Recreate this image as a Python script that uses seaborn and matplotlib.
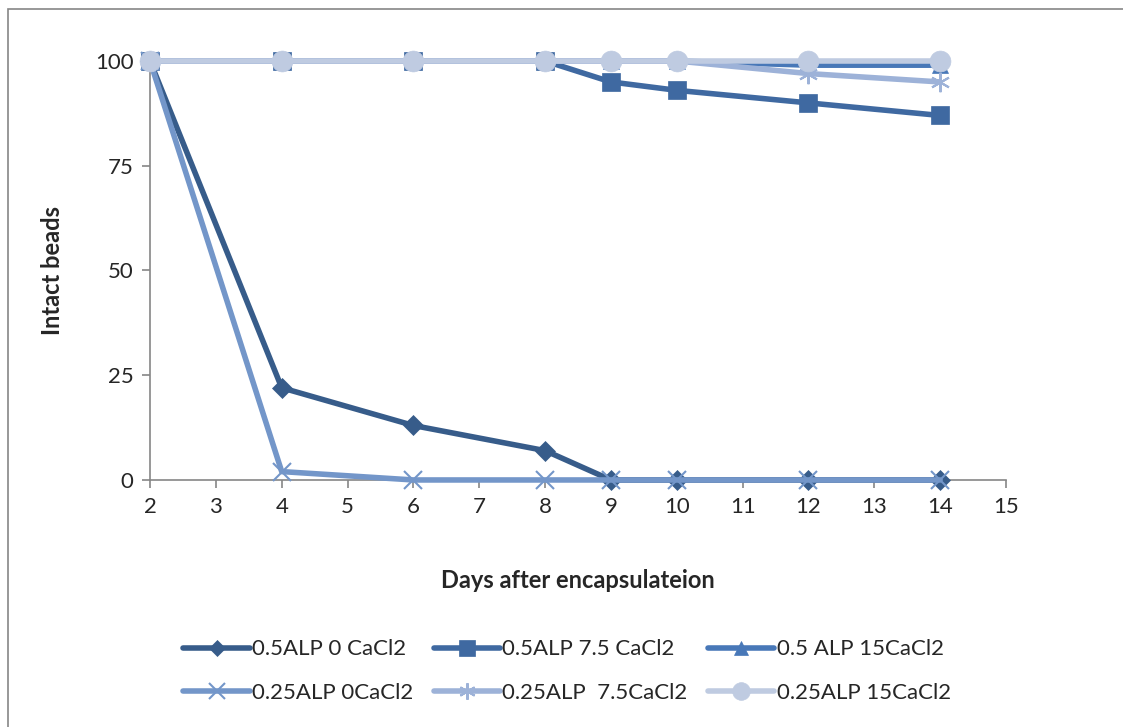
import matplotlib.pyplot as plt
import matplotlib.patches as mpatches
from matplotlib.lines import Line2D
import pandas as pd
import seaborn as sns

# days after encapsulation
days = [2, 4, 6, 8, 9, 10, 12, 14]

labels = ["0.5ALP 0 CaCl2", "0.5ALP 7.5 CaCl2", "0.5 ALP 15CaCl2",
          "0.25ALP 0CaCl2", "0.25ALP  7.5CaCl2", "0.25ALP 15CaCl2"]

alp05_0 = [100, 22, 13, 7, 0, 0, 0, 0]
alp05_75 = [100, 100, 100, 100, 95, 93, 90, 87]
alp05_15 = [100, 100, 100, 100, 100, 100, 99, 99]
alp025_0 = [100, 2, 0, 0, 0, 0, 0, 0]
alp025_75 = [100, 100, 100, 100, 100, 100, 97, 95]
alp025_15 = [100, 100, 100, 100, 100, 100, 100, 100]

series = [alp05_0, alp05_75, alp05_15, alp025_0, alp025_75, alp025_15]
colours = ["#375C8A", "#3F69A1", "#4878B8", "#7396C9", "#9DB2D8", "#BFCBE1"]
symbols = ["D", "s", "^", "x", (6, 2, 0), "o"]
msizes = [10, 13, 12, 13, 14, 15]

rows = []
for lab, vals in zip(labels, series):
    for d, v in zip(days, vals):
        rows.append({"day": d, "beads": v, "series": lab})
df = pd.DataFrame(rows)

sns.set_style("white")
plt.rcParams["font.family"] = ["Lato", "DejaVu Sans"]

fig = plt.figure(figsize=(11.23, 7.27), dpi=100)
ax = fig.add_axes([0.1336, 0.3398, 0.7622, 0.5763])

handles = []
for lab, c, m, ms in zip(labels, colours, symbols, msizes):
    sub = df[df["series"] == lab]
    thin = m in ("x", (6, 2, 0))
    sns.lineplot(data=sub, x="day", y="beads", ax=ax, color=c, linewidth=4,
                 marker=m, markersize=ms, markeredgecolor=c,
                 markeredgewidth=1.5 if thin else 0.5,
                 clip_on=False, legend=False, zorder=3)
    handles.append(Line2D([0], [0], color=c, lw=4, marker=m, markersize=ms * 0.85,
                          markeredgecolor=c, markeredgewidth=1.5 if thin else 0.5,
                          solid_capstyle="round"))

ax.set_xlim(2, 15)
ax.set_ylim(0, 100)
ax.set_xticks(range(2, 16))
ax.set_yticks([0, 25, 50, 75, 100])
ax.tick_params(axis="both", labelsize=16, length=6, width=1.2, color="#868686",
               direction="out", bottom=True, left=True, pad=6)
for s in ["top", "right"]:
    ax.spines[s].set_visible(False)
for s in ["left", "bottom"]:
    ax.spines[s].set_color("#868686")
    ax.spines[s].set_linewidth(1.2)

ax.set_xlabel("Days after encapsulateion", fontsize=17, fontweight="bold", labelpad=38)
ax.set_ylabel("Intact beads", fontsize=17, fontweight="bold", labelpad=22)

# legend fills column-wise, so reorder to get the row layout of the reference
order = [0, 3, 1, 4, 2, 5]
fig.legend([handles[i] for i in order], [labels[i] for i in order],
           loc="center", bbox_to_anchor=(0.505, 0.077), ncol=3,
           frameon=False, fontsize=16, handlelength=3.0, handletextpad=0.1,
           columnspacing=0.9, labelspacing=1.05)

fig.patches.append(mpatches.Rectangle((0.007, -0.01), 1.0, 0.998, transform=fig.transFigure,
                                      fill=False, edgecolor="#868686", lw=1.2))

plt.savefig("out.png", dpi=100)
